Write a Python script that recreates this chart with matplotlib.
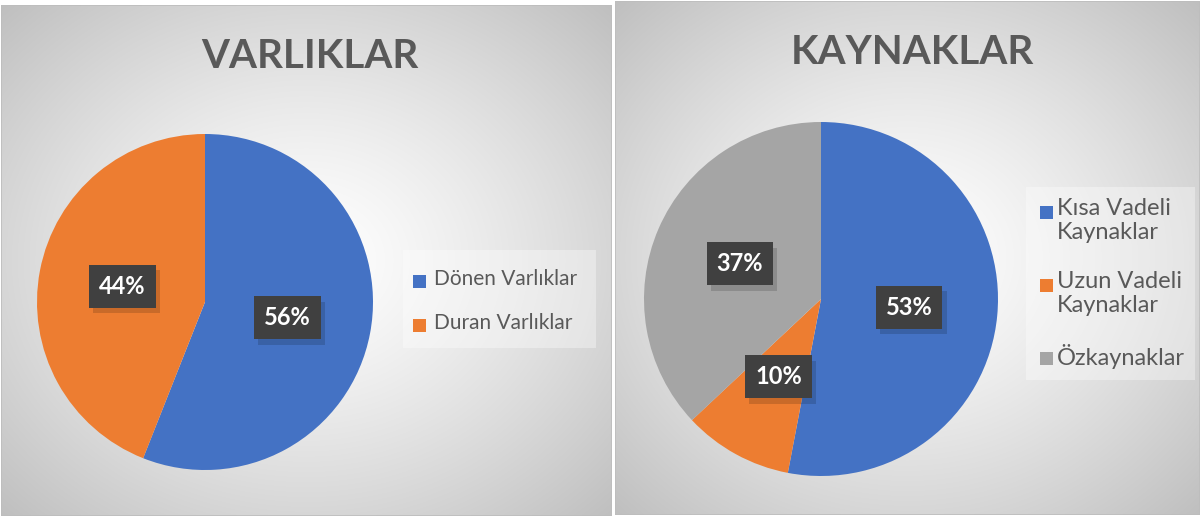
import numpy as np
import matplotlib.pyplot as plt
import matplotlib.patheffects as pe
from matplotlib.patches import Rectangle

# data
assets_labels = ["Dönen Varlıklar", "Duran Varlıklar"]
assets_values = [56, 44]
sources_labels = ["Kısa Vadeli\nKaynaklar", "Uzun Vadeli\nKaynaklar", "Özkaynaklar"]
sources_values = [53, 10, 37]

colors = ["#4472c4", "#ed7d31", "#a5a5a5"]
text_gray = "#595959"

plt.rcParams["font.family"] = ["Lato", "DejaVu Sans"]

W, H = 1202, 517
fig = plt.figure(figsize=(W / 100, H / 100), dpi=100)
fig.patch.set_facecolor("white")


def px_axes(x0, y0, x1, y1, **kw):
    # pixel box (top-left origin) -> figure axes
    return fig.add_axes([x0 / W, 1 - y1 / H, (x1 - x0) / W, (y1 - y0) / H], **kw)


def panel_bg(x0, y0, x1, y1):
    ax = px_axes(x0, y0, x1, y1, zorder=0)
    xx, yy = np.meshgrid(np.linspace(-1, 1, 200), np.linspace(-1, 1, 200))
    r = np.sqrt(xx ** 2 + yy ** 2) / np.sqrt(2)
    g = 1.0 - 0.25 * r ** 1.3
    ax.imshow(np.dstack([g, g, g]), extent=[0, 1, 0, 1], aspect="auto",
              interpolation="bilinear")
    ax.add_patch(Rectangle((0, 0), 1, 1, transform=ax.transAxes, fill=False,
                           edgecolor="#bdbdbd", linewidth=1.2))
    ax.set_xlim(0, 1)
    ax.set_ylim(0, 1)
    ax.axis("off")


def draw_legend(box, labels, first_line_y, fontsize, sq_x, text_x, sq=13):
    x0, y0, x1, y1 = box
    fig.patches.append(Rectangle((x0 / W, 1 - y1 / H), (x1 - x0) / W, (y1 - y0) / H,
                                 transform=fig.transFigure, facecolor="white",
                                 alpha=0.35, linewidth=0, zorder=5))
    for i, (lab, y) in enumerate(zip(labels, first_line_y)):
        fig.patches.append(Rectangle((sq_x / W, 1 - (y + sq / 2) / H), sq / W, sq / H,
                                     transform=fig.transFigure, facecolor=colors[i],
                                     linewidth=0, zorder=6))
        line_h = fontsize * 100 / 72 * 1.15
        fig.text(text_x / W, 1 - (y - line_h / 2) / H, lab, ha="left", va="top",
                 fontsize=fontsize, color=text_gray, linespacing=1.15, zorder=6)


def draw_pie(cx, cy, r, values, title, title_x, title_y):
    ax = px_axes(cx - r, cy - r, cx + r, cy + r, zorder=2)
    ax.set_facecolor("none")
    wedges, _ = ax.pie(values, colors=colors[:len(values)], startangle=90,
                       counterclock=False, radius=1)
    total = sum(values)
    for w, v in zip(wedges, values):
        mid = np.deg2rad((w.theta1 + w.theta2) / 2)
        t = ax.text(0.5 * np.cos(mid), 0.5 * np.sin(mid), f"{round(100 * v / total)}%",
                    ha="center", va="center", color="white", fontsize=17,
                    fontweight="bold", zorder=4)
        t.set_bbox(dict(boxstyle="square,pad=0.42", facecolor="#404040",
                        linewidth=0))
        t.get_bbox_patch().set_path_effects(
            [pe.SimplePatchShadow(offset=(3, -4), shadow_rgbFace="#000000", alpha=0.15),
             pe.Normal()])
    ax.set_xlim(-1, 1)
    ax.set_ylim(-1, 1)
    ax.set_aspect("equal")
    ax.axis("off")

    fig.text(title_x / W, 1 - title_y / H, title, ha="center", va="center",
             fontsize=29, fontweight="bold", color=text_gray)


panel_bg(1, 5, 612, 516)
panel_bg(615, 1, 1200, 515)

draw_pie(205, 302, 168, assets_values, "VARLIKLAR", 310, 57)
draw_pie(821, 299, 177, sources_values, "KAYNAKLAR", 912, 53)

draw_legend((403, 250, 596, 348), assets_labels, [281, 325], 15, 413, 434)
draw_legend((1026, 187, 1195, 380), sources_labels, [212, 285, 358], 17, 1040, 1057)

fig.savefig("out.png", dpi=100)
